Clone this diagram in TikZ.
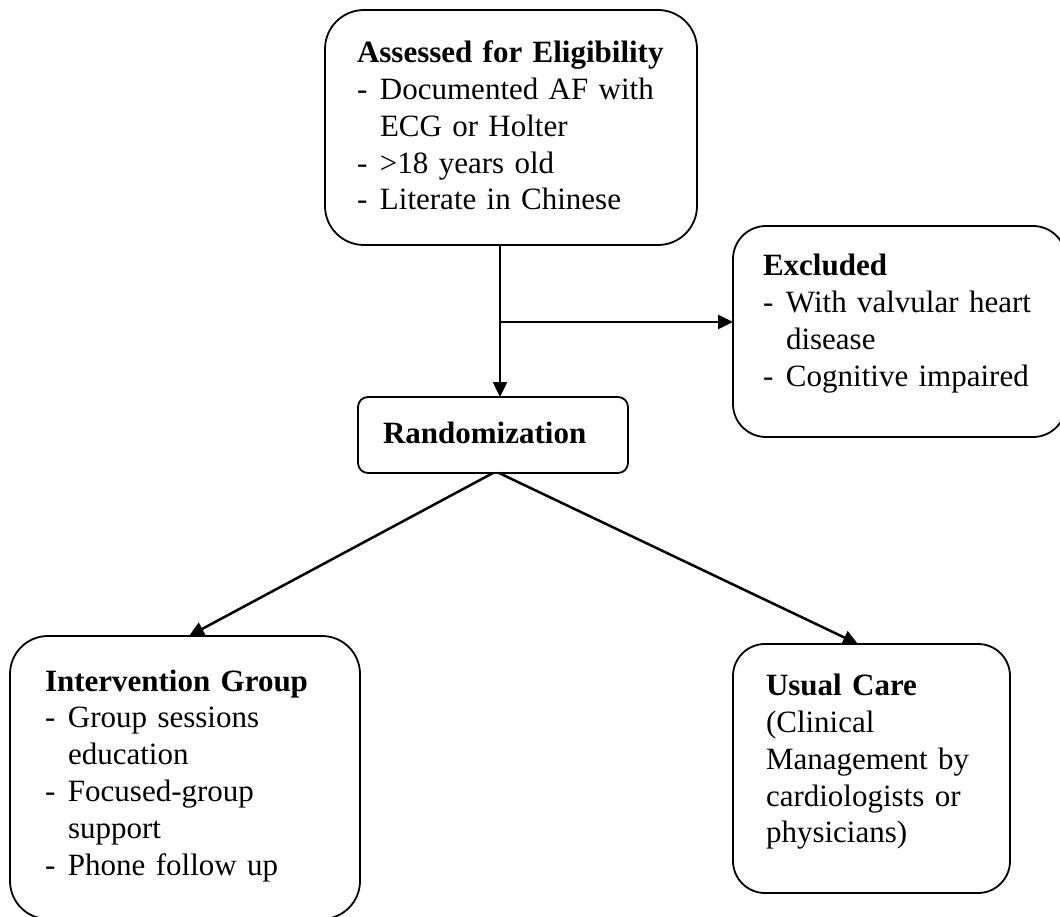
\documentclass[tikz,border=0pt]{standalone}
\usepackage{fontspec}
\setmainfont{Liberation Serif}
\usepackage{tikz}
\usetikzlibrary{arrows.meta}
\newcommand{\boxfont}{\fontsize{31}{36.8}\selectfont}
\newcommand{\boxline}[1]{\mbox{#1}}
\newcommand{\itemdash}[1]{\mbox{\makebox[23pt][l]{-}#1}}
\newcommand{\itemcont}[1]{\mbox{\hspace*{23pt}#1}}
\tikzset{
  flowbox/.style={
    draw=black,
    fill=white,
    line width=1.8pt,
    align=left,
    anchor=north west,
    inner ysep=0pt,
    outer sep=0pt,
    font=\boxfont
  },
  roundbox/.style={
    flowbox,
    rounded corners=#1
  },
  flowarrow/.style={
    -{Triangle[length=15pt,width=14pt]},
    line width=2.5pt,
    draw=black
  }
}

\begin{document}
\begin{tikzpicture}[x=1pt,y=-1pt]
    \clip (0,0) rectangle (1060,917);
    \node[roundbox=39pt, text width=308pt, inner xsep=32pt, text height=52.7pt, text depth=182.3pt] (elig) at (325,10) {
        \boxline{\textbf{Assessed for Eligibility}}\\
        \itemdash{Documented AF with}\\
        \itemcont{ECG or Holter}\\
        \itemdash{>18 years old}\\
        \itemdash{Literate in Chinese}
    };
    \node[roundbox=33pt, text width=273pt, inner xsep=30pt, text height=49.7pt, text depth=161.3pt] (excl) at (733,226) {
        \boxline{\textbf{Excluded}}\\
        \itemdash{With valvular heart}\\
        \itemcont{disease}\\
        \itemdash{Cognitive impaired}
    };
    \node[roundbox=10pt, text width=220pt, inner xsep=25pt, text height=46pt, text depth=30pt] (rand) at (358,397) {
        \boxline{\textbf{Randomization}}
    };
    \node[roundbox=38pt, text width=280pt, inner xsep=35pt, text height=55pt, text depth=228pt] (interv) at (10,636) {
        \boxline{\textbf{Intervention Group}}\\
        \itemdash{Group sessions}\\
        \itemcont{education}\\
        \itemdash{Focused-group}\\
        \itemcont{support}\\
        \itemdash{Phone follow up}
    };
    \node[roundbox=32pt, text width=211pt, inner xsep=33pt, text height=51.7pt, text depth=197.3pt] (usual) at (733,644) {
        \boxline{\textbf{Usual Care}}\\
        \boxline{(Clinical}\\
        \boxline{Management by}\\
        \boxline{cardiologists or}\\
        \boxline{physicians)}
    };

    \coordinate (split) at (500,322);
    \draw[flowarrow] (elig.south -| split) -- (rand.north -| split);
    \draw[flowarrow] (split) -- (split -| excl.west);
    \draw[flowarrow] (rand.south) -- ([xshift=4pt]interv.north);
    \draw[flowarrow] ([xshift=6pt]rand.south) -- ([xshift=-13.5pt]usual.north);
\end{tikzpicture}
\end{document}
